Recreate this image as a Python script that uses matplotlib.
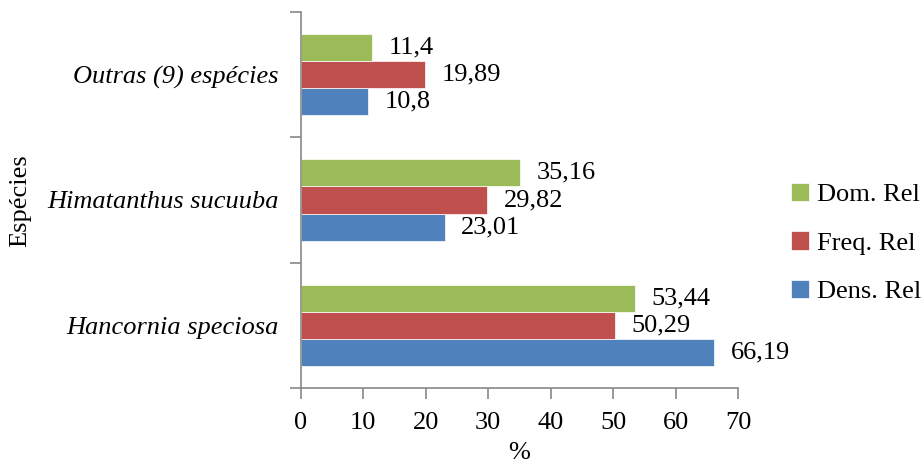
import matplotlib
matplotlib.use('Agg')
import matplotlib.pyplot as plt
import numpy as np

# data
species = ['Hancornia speciosa', 'Himatanthus sucuuba', 'Outras (9) espécies']
dens_rel = [66.19, 23.01, 10.8]
freq_rel = [50.29, 29.82, 19.89]
dom_rel = [53.44, 35.16, 11.4]
series_names = ['Dens. Rel', 'Freq. Rel', 'Dom. Rel']
colors = ['#4f81bd', '#c0504d', '#9bbb59']
xticks = [0, 10, 20, 30, 40, 50, 60, 70]

plt.rcParams['font.family'] = ['Liberation Serif', 'DejaVu Serif']
plt.rcParams['font.size'] = 19

fig = plt.figure(figsize=(9.23, 4.70), dpi=100)
ax = fig.add_axes([0.326, 0.1745, 0.4736, 0.80])

y = np.arange(len(species))
h = 0.216
for k, vals in enumerate([dens_rel, freq_rel, dom_rel]):
    b = ax.barh(y + (k - 1) * h, vals, height=h, color=colors[k],
                label=series_names[k], edgecolor='white', linewidth=0.5)
    for rect, v in zip(b, vals):
        ax.annotate(f'{v:g}'.replace('.', ','),
                    (rect.get_width(), rect.get_y() + rect.get_height() / 2),
                    xytext=(12, 0), textcoords='offset points',
                    ha='left', va='center')

ax.set_xlim(0, 70)
ax.set_ylim(-0.5, 2.5)
ax.set_xticks(xticks)
ax.set_yticks([-0.5, 0.5, 1.5, 2.5])
ax.set_yticklabels([])
ax.set_yticks(y, minor=True)
ax.set_yticklabels(species, minor=True, style='italic')
ax.tick_params(axis='y', which='minor', length=0, pad=16)
ax.tick_params(axis='y', which='major', length=8, color='#888888', width=1.2)
ax.tick_params(axis='x', length=8, color='#888888', width=1.2, pad=9)

for s in ['top', 'right']:
    ax.spines[s].set_visible(False)
for s in ['left', 'bottom']:
    ax.spines[s].set_color('#888888')
    ax.spines[s].set_linewidth(1.2)

ax.set_xlabel('%', labelpad=6)
fig.text(0.022, 0.574, 'Espécies', rotation=90, ha='center', va='center')

handles, labels = ax.get_legend_handles_labels()
fig.legend(handles[::-1], labels[::-1], loc='center left',
           bbox_to_anchor=(0.857, 0.483), frameon=False, borderpad=0,
           borderaxespad=0, handlelength=0.7, handleheight=0.7,
           handletextpad=0.3, labelspacing=0.95)

fig.savefig('out.png', dpi=100)
